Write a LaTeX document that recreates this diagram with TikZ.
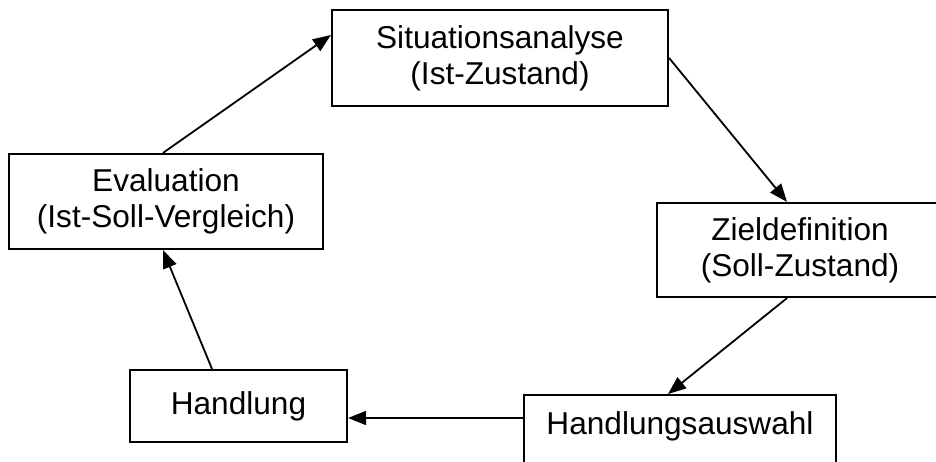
\documentclass[tikz,border=0pt]{standalone}
\usepackage{fontspec}
\setmainfont{Liberation Sans}
\usetikzlibrary{arrows.meta}
\begin{document}
\begin{tikzpicture}[x=1pt,y=1pt,
  boxnode/.style={draw=black, line width=2.2pt, rectangle, align=center, inner sep=0pt,
    font=\fontsize{31.6}{36}\selectfont},
  flow/.style={line width=1.8pt, -{Triangle[length=18pt,width=14pt]}}]
\useasboundingbox (0,0) rectangle (936,462);
\clip (0,0) rectangle (936,462);
\node[boxnode, minimum width=336pt, minimum height=96pt] (sit) at (500,404) {Situationsanalyse\\(Ist-Zustand)};
\node[boxnode, minimum width=314pt, minimum height=95pt] (ev) at (166,260.5) {Evaluation\\(Ist-Soll-Vergleich)};
\node[boxnode, minimum width=286pt, minimum height=94pt] (zd) at (800,212) {Zieldefinition\\(Soll-Zustand)};
\node[boxnode, minimum width=217pt, minimum height=72pt] (hd) at (238.5,56) {Handlung};
\node[boxnode, minimum width=312pt, text height=39pt, text depth=70pt, anchor=north] (ha) at (680,68) {Handlungsauswahl};
\draw[flow] ([xshift=-3pt]ev.north) -- ([yshift=23pt]sit.west);
\draw[flow] ([yshift=0pt]sit.east) -- ([xshift=-13pt]zd.north);
\draw[flow] ([xshift=-13pt]zd.south) -- ([xshift=-12pt]ha.north);
\draw[flow] ([yshift=-24pt]ha.north west) -- ([yshift=-12pt]hd.east);
\draw[flow] ([xshift=-26.5pt]hd.north) -- ([xshift=-3pt]ev.south);
\end{tikzpicture}
\end{document}
